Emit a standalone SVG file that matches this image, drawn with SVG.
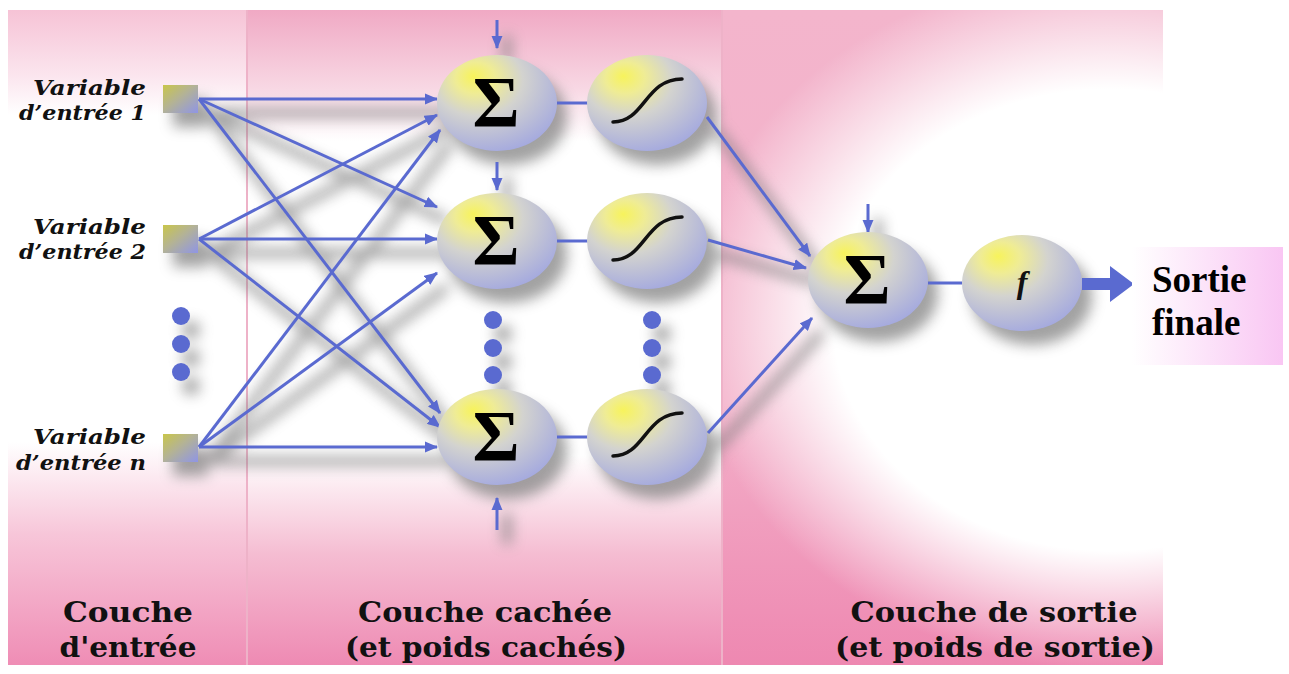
<svg xmlns="http://www.w3.org/2000/svg" width="1289" height="674" viewBox="0 0 1289 674">
<style>
.lbl{font-family:"DejaVu Serif","Liberation Serif",serif;font-weight:bold;font-style:italic;font-size:21px;fill:#111}
.lay{font-family:"DejaVu Serif","Liberation Serif",serif;font-weight:bold;font-size:27px;fill:#111;text-anchor:middle}
.sig{font-family:"Liberation Serif","DejaVu Serif",serif;font-weight:bold;font-size:72px;fill:#000;text-anchor:middle}
.con{stroke:#5a6ad0;stroke-width:3;fill:none}
.node{fill:url(#ng)}
.curve{stroke:#111;stroke-width:3.5;fill:none;stroke-linecap:round}
.dot{fill:#5a6ad0}
.sh{stroke:#7a7a7a;stroke-width:9;fill:none}
.fin{font-family:"Liberation Serif",serif;font-weight:bold;font-size:37px;fill:#000}
</style>
<defs>
<linearGradient id="gIn" x1="0" y1="0" x2="0" y2="1">
<stop offset="0" stop-color="#f6c3d6"/><stop offset="0.1" stop-color="#fbe5ee"/><stop offset="0.16" stop-color="#fff"/><stop offset="0.66" stop-color="#fff"/><stop offset="0.8" stop-color="#f7c6d9"/><stop offset="1" stop-color="#ef8db5"/>
</linearGradient>
<linearGradient id="gHid" x1="0" y1="0" x2="0" y2="1">
<stop offset="0" stop-color="#f0a9c4"/><stop offset="0.12" stop-color="#f8d8e4"/><stop offset="0.2" stop-color="#fff"/><stop offset="0.68" stop-color="#fff"/><stop offset="0.83" stop-color="#f5bdd2"/><stop offset="1" stop-color="#ee8ab3"/>
</linearGradient>
<radialGradient id="gOutW" cx="1110" cy="320" r="350" gradientUnits="userSpaceOnUse" gradientTransform="translate(1110 320) scale(1.2 1) translate(-1110 -320)">
<stop offset="0" stop-color="#fff" stop-opacity="1"/><stop offset="0.66" stop-color="#fff" stop-opacity="1"/><stop offset="1" stop-color="#fff" stop-opacity="0"/>
</radialGradient>
<linearGradient id="gOutB" x1="0" y1="0" x2="0" y2="1">
<stop offset="0" stop-color="#f3b5cc"/><stop offset="0.6" stop-color="#f3b0c9"/><stop offset="1" stop-color="#ee88b1"/>
</linearGradient>
<linearGradient id="gBox" x1="0" y1="0" x2="1" y2="0">
<stop offset="0" stop-color="#ffffff"/><stop offset="1" stop-color="#f9c6f3"/>
</linearGradient>
<radialGradient id="ng" cx="0.38" cy="0.3" r="0.75" fx="0.3" fy="0.22">
<stop offset="0" stop-color="#f7f35c"/><stop offset="0.22" stop-color="#efec95"/><stop offset="0.5" stop-color="#d3d3cf"/><stop offset="1" stop-color="#a3a8df"/>
</radialGradient>
<linearGradient id="sq" x1="0" y1="0" x2="1" y2="1">
<stop offset="0" stop-color="#c9c64a"/><stop offset="0.45" stop-color="#b4b394"/><stop offset="1" stop-color="#8f95e6"/>
</linearGradient>
<filter id="blur" x="-20%" y="-20%" width="140%" height="140%"><feGaussianBlur stdDeviation="7"/></filter>
<marker id="ah" viewBox="0 0 12 10" refX="11" refY="5" markerWidth="4.5" markerHeight="3.8" orient="auto" markerUnits="strokeWidth">
<path d="M0,0 L12,5 L0,10 z" fill="#5a6ad0"/>
</marker>
</defs>

<g id="background">
<rect x="0" y="0" width="1289" height="674" fill="#fff"/>
<rect x="8" y="10" width="239" height="655" fill="url(#gIn)"/>
<rect x="247" y="10" width="475" height="655" fill="url(#gHid)"/>
<rect x="722" y="10" width="441" height="655" fill="url(#gOutB)"/>
<rect x="722" y="10" width="441" height="655" fill="url(#gOutW)"/>
<line x1="247" y1="10" x2="247" y2="665" stroke="#eeb2c8" stroke-width="2"/>
<line x1="722" y1="10" x2="722" y2="665" stroke="#eeb2c8" stroke-width="2"/>
</g>

<g id="shadows" filter="url(#blur)" opacity="0.7" transform="translate(10 14)">
<g class="sh">
<path d="M199,99 L437,99 M199,99 L437,207 M199,99 L440,413 M199,239 L437,115 M199,239 L437,239 M199,239 L440,427 M199,447 L440,130 M199,447 L437,273 M199,447 L437,447"/>
<path d="M707,117 L810,256 M708,240 L806,268 M708,433 L812,318"/>
<path d="M497,22 L497,48 M497,163 L497,190 M497,530 L497,500 M868,205 L868,232"/>
</g>
<g fill="#7a7a7a">
<rect x="163" y="85" width="35" height="28"/><rect x="163" y="225" width="35" height="28"/><rect x="163" y="434" width="35" height="28"/>
<ellipse cx="497" cy="103" rx="60" ry="48"/><ellipse cx="647" cy="103" rx="60" ry="48"/>
<ellipse cx="497" cy="241" rx="60" ry="48"/><ellipse cx="647" cy="241" rx="60" ry="48"/>
<ellipse cx="497" cy="437" rx="60" ry="48"/><ellipse cx="647" cy="437" rx="60" ry="48"/>
<ellipse cx="868" cy="280" rx="60" ry="48"/><ellipse cx="1022" cy="283" rx="60" ry="48"/>
<circle cx="181" cy="316" r="9"/><circle cx="181" cy="344" r="9"/><circle cx="181" cy="372" r="9"/>
<circle cx="493" cy="320" r="9"/><circle cx="493" cy="348" r="9"/><circle cx="493" cy="375" r="9"/>
<circle cx="652" cy="320" r="9"/><circle cx="652" cy="348" r="9"/><circle cx="652" cy="375" r="9"/>
</g>
</g>

<g id="connectors" class="con">
<line x1="199" y1="99" x2="437" y2="99" marker-end="url(#ah)"/>
<line x1="199" y1="99" x2="437" y2="207" marker-end="url(#ah)"/>
<line x1="199" y1="99" x2="440" y2="413" marker-end="url(#ah)"/>
<line x1="199" y1="239" x2="437" y2="115" marker-end="url(#ah)"/>
<line x1="199" y1="239" x2="437" y2="239" marker-end="url(#ah)"/>
<line x1="199" y1="239" x2="440" y2="427" marker-end="url(#ah)"/>
<line x1="199" y1="447" x2="440" y2="130" marker-end="url(#ah)"/>
<line x1="199" y1="447" x2="437" y2="273" marker-end="url(#ah)"/>
<line x1="199" y1="447" x2="437" y2="447" marker-end="url(#ah)"/>
<line x1="557" y1="103" x2="588" y2="103"/>
<line x1="557" y1="241" x2="588" y2="241"/>
<line x1="557" y1="437" x2="588" y2="437"/>
<line x1="707" y1="117" x2="810" y2="256" marker-end="url(#ah)"/>
<line x1="708" y1="240" x2="806" y2="268" marker-end="url(#ah)"/>
<line x1="708" y1="433" x2="812" y2="318" marker-end="url(#ah)"/>
<line x1="928" y1="283" x2="962" y2="283"/>
<line x1="497" y1="20" x2="497" y2="48" marker-end="url(#ah)"/>
<line x1="497" y1="162" x2="497" y2="190" marker-end="url(#ah)"/>
<line x1="497" y1="530" x2="497" y2="498" marker-end="url(#ah)"/>
<line x1="868" y1="204" x2="868" y2="232" marker-end="url(#ah)"/>
<path d="M1082,278 L1110,278 L1110,266 L1134,284 L1110,302 L1110,290 L1082,290 z" fill="#5a6ad0" stroke="none"/>
</g>

<g id="input1">
<rect x="163" y="85" width="35" height="28" fill="url(#sq)"/>
<text class="lbl" x="146" y="95" text-anchor="end" textLength="113" lengthAdjust="spacingAndGlyphs">Variable</text>
<text class="lbl" x="146" y="120" text-anchor="end" textLength="127" lengthAdjust="spacingAndGlyphs">d’entrée 1</text>
</g>
<g id="input2">
<rect x="163" y="225" width="35" height="28" fill="url(#sq)"/>
<text class="lbl" x="146" y="234" text-anchor="end" textLength="113" lengthAdjust="spacingAndGlyphs">Variable</text>
<text class="lbl" x="146" y="259" text-anchor="end" textLength="127" lengthAdjust="spacingAndGlyphs">d’entrée 2</text>
</g>
<g id="inputdots">
<circle class="dot" cx="181" cy="316" r="9"/><circle class="dot" cx="181" cy="344" r="9"/><circle class="dot" cx="181" cy="372" r="9"/>
</g>
<g id="inputn">
<rect x="163" y="434" width="35" height="28" fill="url(#sq)"/>
<text class="lbl" x="146" y="444" text-anchor="end" textLength="113" lengthAdjust="spacingAndGlyphs">Variable</text>
<text class="lbl" x="146" y="470" text-anchor="end" textLength="130" lengthAdjust="spacingAndGlyphs">d’entrée n</text>
</g>

<g id="h1sum"><ellipse class="node" cx="497" cy="103" rx="60" ry="48"/><text class="sig" x="496" y="126">Σ</text></g>
<g id="h1act"><ellipse class="node" cx="647" cy="103" rx="60" ry="48"/><path class="curve" d="M613,122 C645,122 645,79 682,79"/></g>
<g id="h2sum"><ellipse class="node" cx="497" cy="241" rx="60" ry="48"/><text class="sig" x="496" y="264">Σ</text></g>
<g id="h2act"><ellipse class="node" cx="647" cy="241" rx="60" ry="48"/><path class="curve" d="M613,260 C645,260 645,217 682,217"/></g>
<g id="hiddendots">
<circle class="dot" cx="493" cy="320" r="9"/><circle class="dot" cx="493" cy="348" r="9"/><circle class="dot" cx="493" cy="375" r="9"/>
<circle class="dot" cx="652" cy="320" r="9"/><circle class="dot" cx="652" cy="348" r="9"/><circle class="dot" cx="652" cy="375" r="9"/>
</g>
<g id="h3sum"><ellipse class="node" cx="497" cy="437" rx="60" ry="48"/><text class="sig" x="496" y="460">Σ</text></g>
<g id="h3act"><ellipse class="node" cx="647" cy="437" rx="60" ry="48"/><path class="curve" d="M613,456 C645,456 645,413 682,413"/></g>

<g id="osum"><ellipse class="node" cx="868" cy="280" rx="60" ry="48"/><text class="sig" x="867" y="303">Σ</text></g>
<g id="ofunc"><ellipse class="node" cx="1022" cy="283" rx="60" ry="48"/><text x="1022" y="293" text-anchor="middle" font-family="'Liberation Serif', serif" font-style="italic" font-weight="bold" font-size="32" fill="#111">f</text></g>
<g id="sortie">
<rect x="1132" y="247" width="151" height="118" fill="url(#gBox)"/>
<text class="fin" x="1152" y="292">Sortie</text>
<text class="fin" x="1152" y="335">finale</text>
</g>

<g id="layer-input">
<text class="lay" x="128" y="622" textLength="130" lengthAdjust="spacingAndGlyphs">Couche</text>
<text class="lay" x="128" y="657" textLength="137" lengthAdjust="spacingAndGlyphs">d'entrée</text>
</g>
<g id="layer-hidden">
<text class="lay" x="485" y="622" textLength="254" lengthAdjust="spacingAndGlyphs">Couche cachée</text>
<text class="lay" x="486" y="657" textLength="282" lengthAdjust="spacingAndGlyphs">(et poids cachés)</text>
</g>
<g id="layer-output">
<text class="lay" x="994" y="622" textLength="287" lengthAdjust="spacingAndGlyphs">Couche de sortie</text>
<text class="lay" x="995" y="657" textLength="320" lengthAdjust="spacingAndGlyphs">(et poids de sortie)</text>
</g>
</svg>
